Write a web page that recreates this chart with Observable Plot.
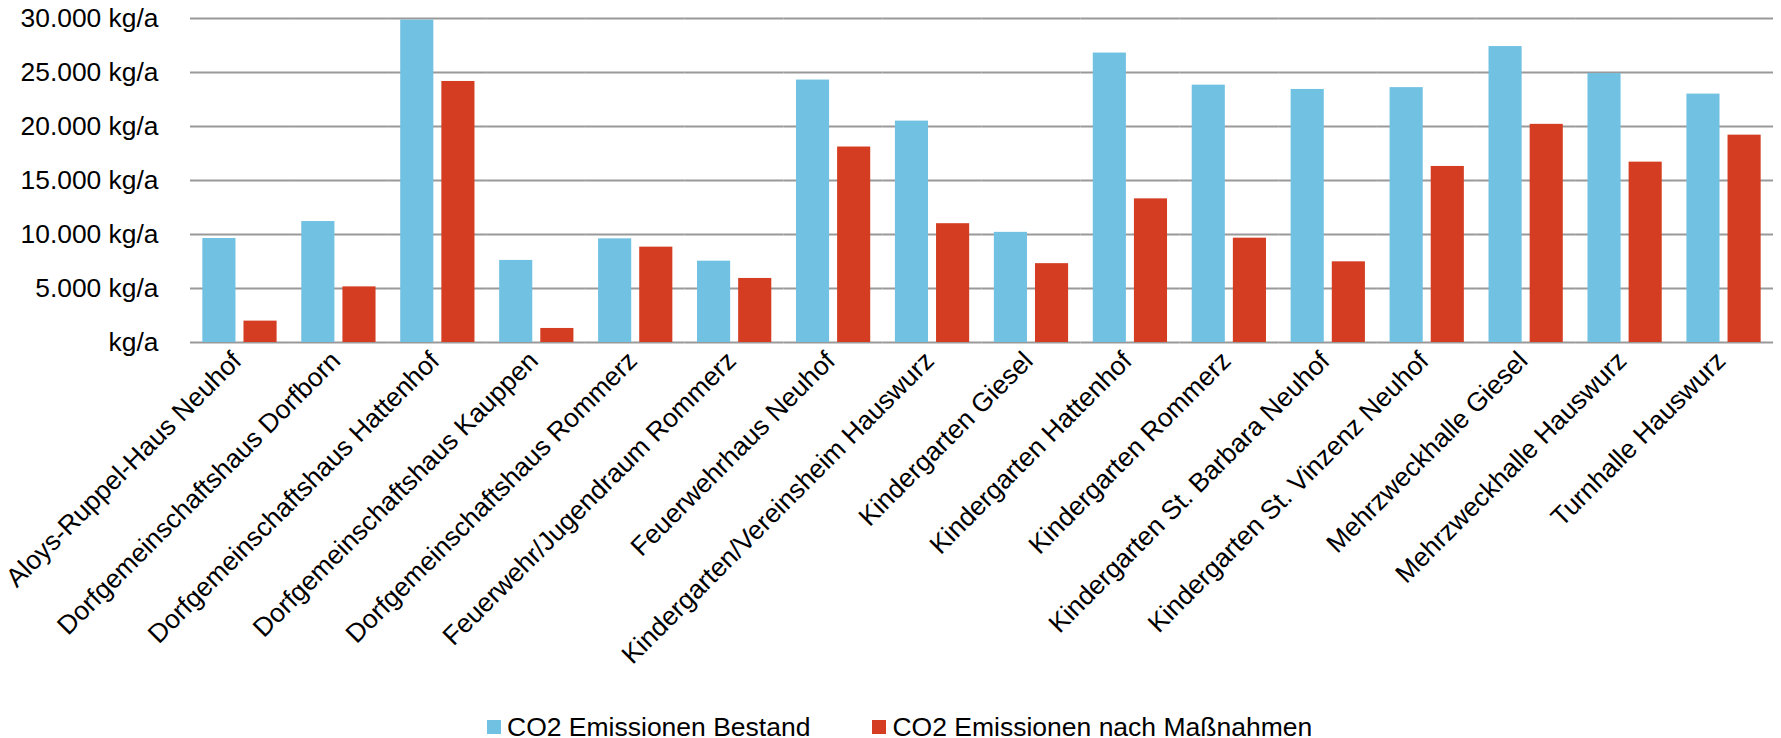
<!DOCTYPE html>
<html>
<head>
<meta charset="utf-8">
<script src="https://cdn.jsdelivr.net/npm/d3@7"></script>
<script src="https://cdn.jsdelivr.net/npm/@observablehq/plot@0.6"></script>
<style>
  html, body { margin: 0; padding: 0; background: #fff; overflow: hidden; }
  body { font-family: "Liberation Sans", Arial, sans-serif; position: relative; width: 1781px; height: 738px; }
  #chart svg { display: block; }
  #legend { position: absolute; left: 487px; top: 714px; height: 26px; display: flex; align-items: center; font-size: 26.5px; line-height: 26px; color: #000; white-space: nowrap; }
  .item { display: flex; align-items: center; margin-right: 62px; }
  .swatch { width: 14px; height: 14px; margin-right: 6px; }
</style>
</head>
<body>
<div id="chart"></div>
<div id="legend"></div>
<script>
const buildings = [
  "Aloys-Ruppel-Haus Neuhof",
  "Dorfgemeinschaftshaus Dorfborn",
  "Dorfgemeinschaftshaus Hattenhof",
  "Dorfgemeinschaftshaus Kauppen",
  "Dorfgemeinschaftshaus Rommerz",
  "Feuerwehr/Jugendraum Rommerz",
  "Feuerwehrhaus Neuhof",
  "Kindergarten/Vereinsheim Hauswurz",
  "Kindergarten Giesel",
  "Kindergarten Hattenhof",
  "Kindergarten Rommerz",
  "Kindergarten St. Barbara Neuhof",
  "Kindergarten St. Vinzenz Neuhof",
  "Mehrzweckhalle Giesel",
  "Mehrzweckhalle Hauswurz",
  "Turnhalle Hauswurz"
];
const bestand = [9630, 11200, 29850, 7600, 9600, 7530, 24300, 20500, 10200, 26800, 23830, 23430, 23600, 27400, 24900, 23000];
const nachMassnahmen = [1980, 5150, 24170, 1300, 8830, 5930, 18100, 11000, 7300, 13300, 9660, 7470, 16300, 20200, 16700, 19200];
const seriesNames = ["CO2 Emissionen Bestand", "CO2 Emissionen nach Maßnahmen"];
const seriesColors = ["#70c1e2", "#d43d21"];
const yTicks = [0, 5000, 10000, 15000, 20000, 25000, 30000];

const data = buildings.flatMap((b, i) => [
  {building: b, series: seriesNames[0], value: bestand[i]},
  {building: b, series: seriesNames[1], value: nachMassnahmen[i]}
]);

const fmt = d => d === 0 ? "kg/a" : d3.format(",")(d).replace(/,/g, ".") + " kg/a";

const chart = Plot.plot({
  width: 1781,
  height: 712,
  marginTop: 18,
  marginBottom: 370,
  marginLeft: 190,
  marginRight: 8,
  style: {fontFamily: "Liberation Sans, Arial, sans-serif", fontSize: "26px", color: "#000", background: "#fff"},
  fx: {domain: buildings, padding: 0, round: false, label: null},
  x: {domain: seriesNames, paddingInner: 0.195, paddingOuter: 0.3, round: false, axis: null},
  y: {domain: [0, 30000], label: null},
  color: {domain: seriesNames, range: seriesColors},
  marks: [
    Plot.ruleY(yTicks, {stroke: "#999", strokeWidth: 2}),
    Plot.barY(data, {fx: "building", x: "series", y: "value", fill: "series"}),
    Plot.axisY({ticks: yTicks, tickFormat: fmt, tickSize: 0, tickPadding: 32, fontSize: 26.4, label: null}),
    Plot.axisFx({anchor: "bottom", tickRotate: -45, tickSize: 0, tickPadding: 14, dx: -3, fontSize: 26.4, label: null})
  ]
});
document.getElementById("chart").appendChild(chart);

const legend = document.getElementById("legend");
seriesNames.forEach((name, i) => {
  const item = document.createElement("div");
  item.className = "item";
  const sw = document.createElement("span");
  sw.className = "swatch";
  sw.style.background = seriesColors[i];
  const label = document.createElement("span");
  label.textContent = name;
  item.appendChild(sw);
  item.appendChild(label);
  legend.appendChild(item);
});
</script>
</body>
</html>
